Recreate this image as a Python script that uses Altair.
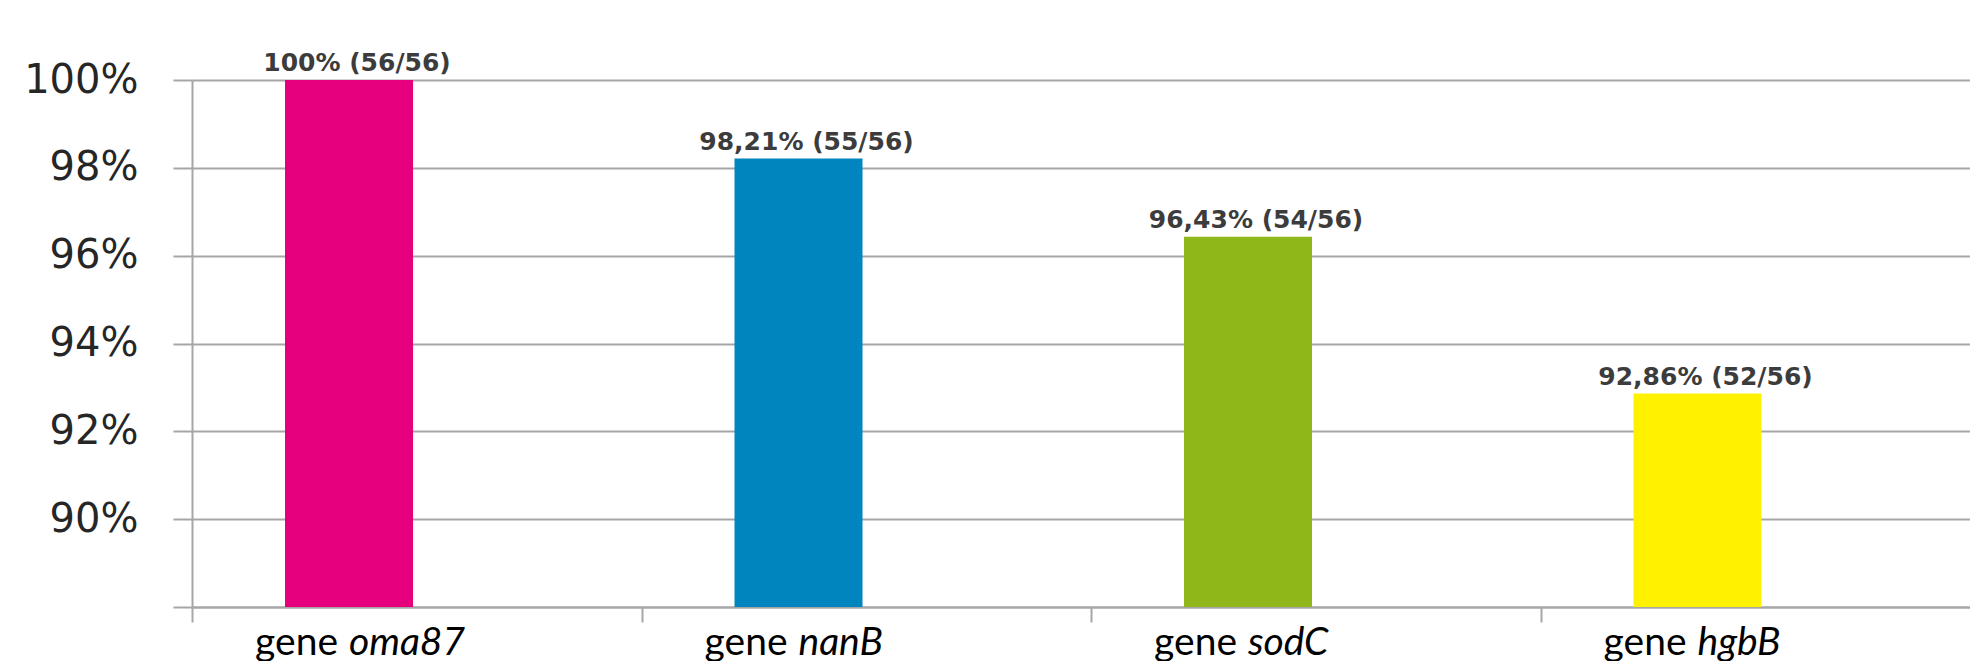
import altair as alt
import pandas as pd

genes = ["oma87", "nanB", "sodC", "hgbB"]
percent = [100.0, 98.21, 96.43, 92.86]
positives = [56, 55, 54, 52]
total = 56
colors = ["#E6007E", "#0085BF", "#8FB719", "#FFF100"]
y_ticks = [88, 90, 92, 94, 96, 98, 100]


def fmt_pct(v):
    s = f"{v:.2f}".rstrip("0").rstrip(".")
    return s.replace(".", ",") + "%"


df = pd.DataFrame({
    "gene": genes,
    "idx": list(range(len(genes))),
    "pct": percent,
    "label": [f"{fmt_pct(p)} ({n}/{total})" for p, n in zip(percent, positives)],
    "prefix": ["gene"] * len(genes),
})

W, H = 1778, 527
GRAY = "#a6a6a6"

# category slots: bar sits left of slot centre, separators between slots
SHIFT = 0.3493
x_lo = -SHIFT
x_hi = x_lo + W / 449.5
sep_ticks = [i - SHIFT for i in range(len(genes))]

x = alt.X(
    "idx:Q",
    scale=alt.Scale(domain=[x_lo, x_hi], nice=False, zero=False, padding=0),
    axis=alt.Axis(
        title=None, labels=False, grid=False, values=sep_ticks,
        domainColor=GRAY, domainWidth=2,
        tickColor=GRAY, tickWidth=2, tickSize=15,
    ),
)
y = alt.Y(
    "pct:Q",
    scale=alt.Scale(domain=[88, 100], nice=False, zero=False, clamp=True, padding=0),
    axis=alt.Axis(
        title=None, values=y_ticks,
        labelExpr="datum.value < 89 ? '' : datum.value + '%'",
        labelFont="DejaVu Sans", labelFontSize=40, labelColor="#262626",
        labelPadding=35, tickSize=19, tickColor=GRAY, tickWidth=2,
        domainColor=GRAY, domainWidth=2,
        grid=True, gridColor=GRAY, gridWidth=2,
    ),
)

base = alt.Chart(df)

bars = base.mark_bar(size=128).encode(
    x=x, y=y,
    color=alt.Color("gene:N", scale=alt.Scale(domain=genes, range=colors), legend=None),
)

bar_labels = base.mark_text(
    font="DejaVu Sans", fontSize=25, fontWeight="bold", color="#3c3c3c",
    baseline="alphabetic", align="center", dy=-9, dx=8,
).encode(x=x, y=y, text="label:N")

prefix = base.mark_text(
    font="Lato", fontSize=39, color="#000000", align="right",
    baseline="alphabetic", dx=-11,
).encode(x=x, y=alt.value(H + 48), text="prefix:N")

names = base.mark_text(
    font="Lato", fontSize=39, fontStyle="italic", color="#000000", align="left",
    baseline="alphabetic", dx=0,
).encode(x=x, y=alt.value(H + 48), text="gene:N")

chart = alt.layer(bars, bar_labels, prefix, names).properties(
    width=W, height=H,
    autosize=alt.AutoSizeParams(type="none"),
    padding={"left": 184, "top": 72, "right": 0, "bottom": 58},
).configure_view(stroke=None)

chart.save("out.html", embed_options={"renderer": "svg", "actions": False})
